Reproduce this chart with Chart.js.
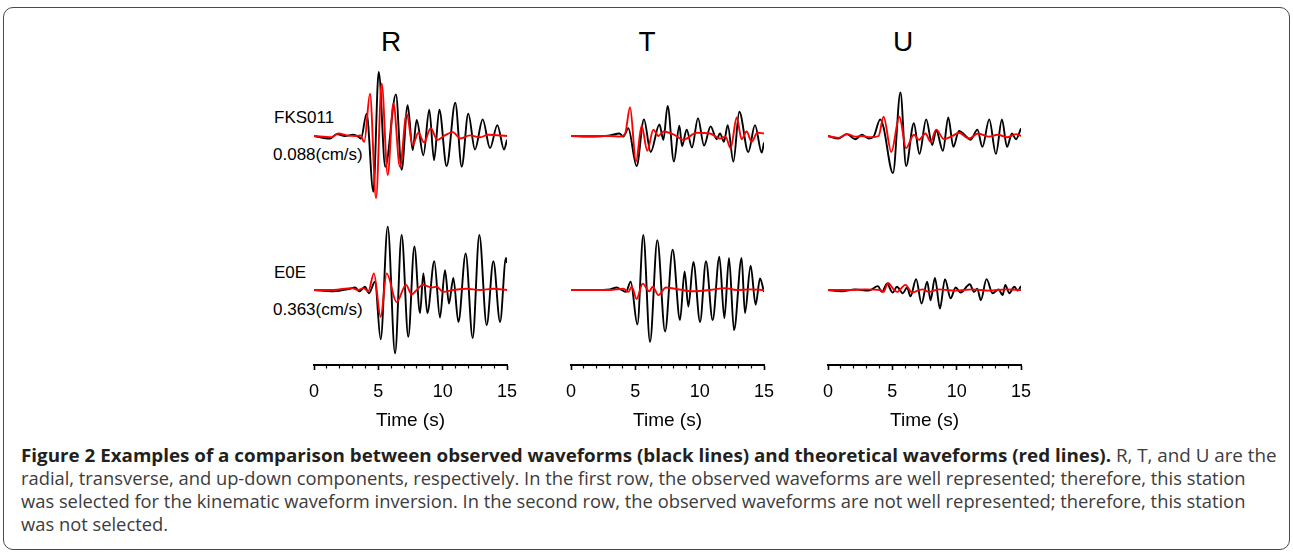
<!DOCTYPE html>
<html>
<head>
<meta charset="utf-8">
<script src="https://cdn.jsdelivr.net/npm/chart.js@4.4.1/dist/chart.umd.min.js"></script>
<style>
  html, body { margin: 0; padding: 0; background: #fff; }
  body { width: 1293px; height: 557px; position: relative; overflow: hidden; font-family: "Liberation Sans", Arial, sans-serif; }
  .frame { position: absolute; left: 3px; top: 7px; width: 1285px; height: 541px; border: 1px solid #4a4a4a; border-radius: 10px; }
  .lbl { position: absolute; white-space: nowrap; color: #000; line-height: 1; }
  .ttl { position: absolute; width: 60px; text-align: center; font-size: 28px; line-height: 1; color: #000; }
  canvas { position: absolute; }
  .cap { position: absolute; left: 21px; white-space: nowrap; font-family: "Open Sans", sans-serif; font-size: 18px; line-height: 1; color: #3c3c3c; transform-origin: 0 0; }
  .cap b { color: #231f20; }
</style>
</head>
<body>
<div class="frame"></div>
<div id="figure"></div>
<div class="cap" id="cap0"><b>Figure 2 Examples of a comparison between observed waveforms (black lines) and theoretical waveforms (red lines).</b> R, T, and U are the</div>
<div class="cap" id="cap1">radial, transverse, and up-down components, respectively. In the first row, the observed waveforms are well represented; therefore, this station</div>
<div class="cap" id="cap2">was selected for the kinematic waveform inversion. In the second row, the observed waveforms are not well represented; therefore, this station</div>
<div class="cap" id="cap3">was not selected.</div>

<script>
// components and stations
const components = ['R', 'T', 'U'];
const stations = ['FKS011', 'E0E'];
const ampLabels = ['0.088(cm/s)', '0.363(cm/s)'];
const timeTicks = [0, 5, 10, 15];

// waveforms: [time (s), relative amplitude]
// FKS011
const fksR_obs = [[0,0],[1.24,-0.04],[1.76,0.03],[2.41,0],[3.06,0.02],[3.45,-0.01],[3.65,-0.04],[4.09,0.35],[4.61,-0.87],[5.03,1.0],[5.54,-0.48],[6.37,0.65],[6.81,-0.53],[7.28,0.48],[7.67,-0.22],[7.98,0.25],[8.50,-0.30],[8.96,0.41],[9.33,-0.38],[9.74,0.41],[10.31,-0.47],[10.98,0.52],[11.48,-0.48],[11.99,0.35],[12.51,-0.21],[13.11,0.26],[13.68,-0.19],[14.25,0.17],[14.77,-0.21],[15,-0.06]];
const fksR_syn = [[0,0],[1.37,-0.02],[1.89,0.04],[2.54,0.01],[3.32,0],[3.6,0.01],[3.91,-0.09],[4.35,0.66],[4.82,-0.97],[5.26,0.82],[5.73,-0.61],[6.17,0.51],[6.68,-0.48],[7.20,0.35],[7.67,-0.14],[8.11,0.05],[8.55,-0.10],[9.07,0.12],[9.59,-0.06],[10.1,0],[10.78,0.06],[11.4,-0.04],[12.12,0.01],[12.9,-0.02],[13.55,0.02],[15,0]];
const fksT_obs = [[0,0],[1.74,-0.01],[3.03,0.01],[3.76,0.04],[4.07,-0.01],[4.45,0.12],[5.1,-0.47],[5.67,0.26],[6.19,-0.25],[6.87,0.18],[7.18,-0.06],[7.51,0.47],[8.0,-0.40],[8.42,0.16],[8.63,-0.16],[8.99,0.10],[9.40,-0.18],[9.87,0.28],[10.34,-0.15],[10.85,0.15],[11.32,-0.05],[11.58,0.04],[11.89,-0.09],[12.18,0.17],[12.62,-0.40],[13.08,0.38],[13.78,-0.25],[14.30,0.17],[14.82,-0.26],[15,-0.10]];
const fksT_syn = [[0,0],[3.03,0],[3.81,-0.01],[4.2,0.03],[4.59,0.45],[5.05,-0.40],[5.49,0.16],[5.93,-0.23],[6.40,0.10],[6.79,0],[7.18,0.07],[8.0,0.02],[8.73,-0.06],[9.77,0.05],[10.8,0.04],[11.58,-0.04],[12.0,-0.01],[12.41,-0.19],[12.88,0.29],[13.26,-0.05],[13.65,0.07],[14.04,-0.09],[14.48,0.05],[15,0.04]];
const fksU_obs = [[0,0],[0.81,-0.04],[1.46,0.03],[2.11,-0.05],[2.63,0.02],[3.15,-0.04],[3.54,-0.01],[4.06,0.26],[4.3,0.15],[5.05,-0.58],[5.63,0.68],[6.07,-0.47],[6.67,0.20],[7.11,-0.28],[7.63,0.26],[8.1,-0.14],[8.41,0.09],[8.93,-0.23],[9.35,0.29],[9.74,-0.17],[10.18,0.08],[10.76,-0.01],[11.09,-0.06],[11.61,0.10],[12.0,-0.17],[12.53,0.26],[13.05,-0.28],[13.52,0.26],[13.91,-0.17],[14.3,0.04],[14.61,-0.05],[15,0.12]];
const fksU_syn = [[0,0],[0.81,-0.03],[1.51,0.03],[2.11,-0.01],[2.63,0],[3.28,-0.02],[3.93,0],[4.32,0.30],[4.92,-0.25],[5.55,0.30],[6.07,-0.19],[6.67,0.02],[7.06,-0.06],[7.58,0.04],[7.97,-0.09],[8.41,0.10],[9.01,-0.05],[9.66,0],[10.18,0.05],[10.96,-0.04],[11.67,0.04],[12.53,-0.01],[13.18,0.02],[13.96,-0.02],[14.61,0.03],[15,0]];
// E0E
const e0eR_obs = [[0,0],[1.5,-0.02],[2.8,0.02],[3.19,0.04],[3.52,-0.02],[3.96,0.05],[4.27,-0.05],[4.74,0.13],[5.18,-0.77],[5.73,0.99],[6.30,-0.99],[6.81,0.86],[7.33,-0.73],[7.80,0.68],[8.24,-0.36],[8.50,0.26],[8.81,-0.36],[9.35,0.45],[9.79,-0.43],[10.18,0.31],[10.49,-0.21],[10.83,0.19],[11.22,-0.50],[11.79,0.57],[12.33,-0.75],[12.85,0.86],[13.42,-0.55],[13.94,0.45],[14.46,-0.50],[14.92,0.50],[15,0.42]];
const e0eR_syn = [[0,0],[1.5,0],[2.93,0.03],[3.45,0],[3.83,0.03],[4.22,-0.02],[4.66,0.26],[5.18,-0.42],[5.65,0.26],[6.42,-0.19],[7.15,0.08],[7.59,-0.07],[7.98,0],[8.45,0.08],[9.15,0.04],[9.53,0.05],[10.05,-0.03],[10.83,0],[11.87,0.02],[12.9,0],[13.94,0.02],[15,0]];
const e0eT_obs = [[0,0],[1.74,0],[3.03,0.01],[3.55,0.04],[3.94,0],[4.27,-0.03],[4.64,0.13],[5.16,-0.54],[5.62,0.86],[6.14,-0.81],[6.71,0.78],[7.31,-0.65],[7.90,0.63],[8.47,-0.47],[8.83,0.29],[9.12,-0.26],[9.51,0.44],[10.03,-0.50],[10.49,0.45],[11.01,-0.47],[11.53,0.52],[11.92,-0.44],[12.28,0.50],[12.67,-0.63],[13.26,0.50],[13.52,-0.36],[13.96,0.38],[14.35,-0.23],[14.69,0.18],[15,-0.03]];
const e0eT_syn = [[0,0],[3.03,0],[4.07,0.02],[4.46,-0.03],[4.72,0.05],[5.10,-0.14],[5.57,0.10],[6.09,-0.02],[6.35,0.05],[6.79,-0.08],[7.38,0.04],[8.08,0.02],[9.51,-0.02],[10.8,0],[11.97,0.03],[12.88,0],[13.91,0.01],[15,0]];
const e0eU_obs = [[0,0],[1.07,-0.02],[2.11,0.01],[3.15,-0.01],[3.88,0.06],[4.19,-0.03],[4.58,0.10],[5.03,-0.04],[5.36,0.05],[5.81,-0.05],[6.15,0.04],[6.41,-0.10],[6.85,0.17],[7.27,-0.21],[7.71,0.13],[7.97,-0.16],[8.31,0.19],[8.70,-0.29],[9.09,0.17],[9.53,-0.13],[9.92,0.04],[10.31,-0.04],[11.02,0.09],[11.35,-0.03],[11.6,0.02],[11.88,-0.16],[12.32,0.17],[12.79,-0.05],[13.26,0.01],[13.57,-0.08],[13.78,0.08],[14.09,-0.05],[14.48,0.05],[14.74,-0.01],[15,0.06]];
const e0eU_syn = [[0,0],[1.59,0],[2.89,0.01],[4.06,0],[4.32,-0.03],[4.66,0.11],[5.10,0.01],[5.36,-0.03],[6.02,0.08],[6.54,-0.04],[7.32,0.01],[7.84,-0.03],[8.62,0.01],[9.92,-0.01],[11.22,0.01],[12.53,-0.01],[13.83,0.01],[15,0]];

const observed = [[fksR_obs, fksT_obs, fksU_obs], [e0eR_obs, e0eT_obs, e0eU_obs]];
const theoretical = [[fksR_syn, fksT_syn, fksU_syn], [e0eR_syn, e0eT_syn, e0eU_syn]];

// page layout (px)
const colX0 = [314, 571, 828];   // pixel of t = 0 in each column
const colW = 193;                // 15 s
const plotTop = 60, axisY = 365;
const rowBase = [136, 290];      // baseline of each station row
const ampPx = 64;                // px per unit amplitude
const pad = 30, axisH = 70;

const fig = document.getElementById('figure');

function addText(cls, text, left, top, size) {
    const d = document.createElement('div');
    d.className = cls;
    d.textContent = text;
    d.style.left = left + 'px';
    d.style.top = top + 'px';
    if (size) d.style.fontSize = size + 'px';
    fig.appendChild(d);
}

// component titles
const titleX = [391, 647, 903];
components.forEach((c, i) => addText('ttl', c, titleX[i] - 30, 28));

// station names and amplitude scale
addText('lbl', stations[0], 274, 109, 17);
addText('lbl', ampLabels[0], 273, 146, 17);
addText('lbl', stations[1], 274, 264, 17);
addText('lbl', ampLabels[1], 273, 301, 17);

function toXY(arr) {
    return arr.map(p => ({ x: p[0], y: p[1] }));
}

function trace(arr, color, axis) {
    return {
        data: toXY(arr),
        borderColor: color,
        borderWidth: 1.9,
        pointRadius: 0,
        fill: false,
        cubicInterpolationMode: 'monotone',
        yAxisID: axis
    };
}

const areaH = axisY - plotTop;

components.forEach((comp, c) => {
    const cv = document.createElement('canvas');
    cv.width = colW + 2 * pad;
    cv.height = areaH + axisH;
    cv.style.left = (colX0[c] - pad) + 'px';
    cv.style.top = plotTop + 'px';
    fig.appendChild(cv);

    new Chart(cv.getContext('2d'), {
        type: 'line',
        data: {
            datasets: [
                // red first so it is drawn on top
                trace(theoretical[0][c], '#ff0000', 'y1'),
                trace(theoretical[1][c], '#ff0000', 'y2'),
                trace(observed[0][c], '#000000', 'y1'),
                trace(observed[1][c], '#000000', 'y2')
            ]
        },
        options: {
            responsive: false,
            animation: false,
            events: [],
            layout: { padding: { left: pad, right: pad, top: 0, bottom: 0 } },
            scales: {
                x: {
                    type: 'linear',
                    min: 0,
                    max: 15,
                    afterFit: s => { s.height = axisH; },
                    border: { display: true, color: '#000', width: 2 },
                    grid: {
                        drawOnChartArea: false,
                        drawTicks: true,
                        tickLength: 5,
                        tickColor: '#000',
                        tickWidth: ctx => (ctx.tick && ctx.tick.value % 5 === 0) ? 1.6 : 1.2,
                        tickBorderDash: ctx => (ctx.tick && ctx.tick.value % 5 === 0) ? [] : [2.5, 20]
                    },
                    ticks: {
                        stepSize: 1,
                        autoSkip: false,
                        maxRotation: 0,
                        padding: 11,
                        color: '#000',
                        font: { family: '"Liberation Sans", Arial, sans-serif', size: 18 },
                        callback: v => timeTicks.includes(v) ? String(v) : ''
                    },
                    title: {
                        display: true,
                        text: 'Time (s)',
                        color: '#000',
                        font: { family: '"Liberation Sans", Arial, sans-serif', size: 19 },
                        padding: { top: 0, bottom: 3 }
                    }
                },
                y1: {
                    display: false,
                    min: (rowBase[0] - axisY) / ampPx,
                    max: (rowBase[0] - plotTop) / ampPx
                },
                y2: {
                    display: false,
                    min: (rowBase[1] - axisY) / ampPx,
                    max: (rowBase[1] - plotTop) / ampPx
                }
            },
            plugins: {
                legend: { display: false },
                tooltip: { enabled: false }
            }
        }
    });
});

// caption lines: stretch to the reference line widths (offsetWidth ignores transforms)
const capTops = [446, 469, 492, 515];
const capRight = [1277, 1246, null, null];
function fitCaption() {
    const k0 = (capRight[0] - 21) / document.getElementById('cap0').offsetWidth;
    const k1 = (capRight[1] - 21) / document.getElementById('cap1').offsetWidth;
    for (let i = 0; i < 4; i++) {
        const el = document.getElementById('cap' + i);
        el.style.top = capTops[i] + 'px';
        el.style.transform = 'scaleX(' + (i === 0 ? k0 : k1) + ')';
    }
}
fitCaption();
if (document.fonts && document.fonts.ready) document.fonts.ready.then(fitCaption);
</script>
</body>
</html>
